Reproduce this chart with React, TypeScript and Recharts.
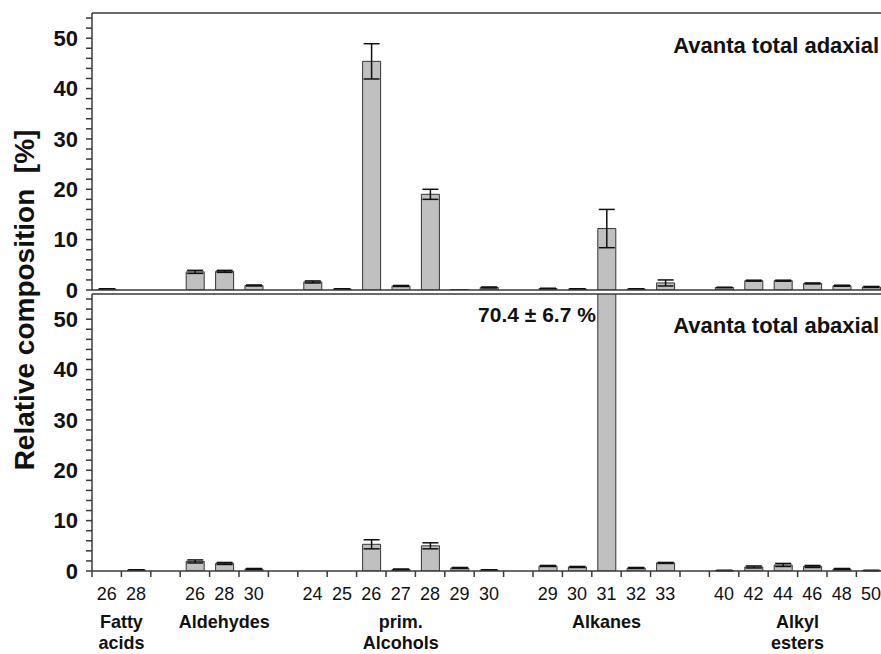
import React from 'react'
import { BarChart, Bar, XAxis, YAxis, ErrorBar, ReferenceLine } from 'recharts'

// slot ids (gaps between groups are empty slots)
const slotIds = [
  'fa26', 'fa28', 'g1',
  'al26', 'al28', 'al30', 'g2',
  'oh24', 'oh25', 'oh26', 'oh27', 'oh28', 'oh29', 'oh30', 'g3',
  'an29', 'an30', 'an31', 'an32', 'an33', 'g4',
  'es40', 'es42', 'es44', 'es46', 'es48', 'es50',
]
const slotLabels = [
  '26', '28', '',
  '26', '28', '30', '',
  '24', '25', '26', '27', '28', '29', '30', '',
  '29', '30', '31', '32', '33', '',
  '40', '42', '44', '46', '48', '50',
]

const adaxialValues = [
  0.2, 0, null,
  3.6, 3.7, 0.9, null,
  1.6, 0.2, 45.4, 0.8, 19.0, 0.1, 0.5, null,
  0.3, 0.2, 12.2, 0.2, 1.4, null,
  0.5, 1.85, 1.85, 1.3, 0.85, 0.6,
]
const adaxialErrors = [
  0.05, 0, null,
  0.3, 0.2, 0.1, null,
  0.2, 0.05, 3.5, 0.1, 1.0, 0, 0.1, null,
  0.05, 0.05, 3.8, 0.05, 0.6, null,
  0.05, 0.1, 0.1, 0.1, 0.1, 0.1,
]
const abaxialValues = [
  0, 0.2, null,
  1.9, 1.5, 0.4, null,
  0, 0, 5.3, 0.3, 5.0, 0.6, 0.2, null,
  1.0, 0.8, 70.4, 0.6, 1.6, null,
  0.1, 0.8, 1.2, 0.9, 0.4, 0.1,
]
const abaxialErrors = [
  0, 0.05, null,
  0.3, 0.2, 0.1, null,
  0, 0, 0.9, 0.1, 0.6, 0.1, 0.05, null,
  0.1, 0.1, 6.7, 0.1, 0.1, null,
  0.05, 0.2, 0.3, 0.2, 0.1, 0.05,
]

const groups = [
  { lines: ['Fatty', 'acids'], start: 0, count: 2 },
  { lines: ['Aldehydes'], start: 3, count: 3 },
  { lines: ['prim.', 'Alcohols'], start: 7, count: 7 },
  { lines: ['Alkanes'], start: 15, count: 5 },
  { lines: ['Alkyl', 'esters'], start: 21, count: 6 },
]

const yTicks = [0, 2, 4, 6, 8, 10, 12, 14, 16, 18, 20, 22, 24, 26, 28, 30, 32, 34, 36, 38, 40, 42, 44, 46, 48, 50, 52, 54]
const Y_MAX = 55

const rows = slotIds.map((id, i) => ({
  id,
  label: slotLabels[i],
  ad: adaxialValues[i],
  adErr: adaxialErrors[i],
  ab: abaxialValues[i],
  abErr: abaxialErrors[i],
}))

const FONT = '"Liberation Sans", Arial, Helvetica, sans-serif'
const AXIS = '#3a3a3a'
const SLOT = 29.4
const Y_W = 92
const CHART_W = Y_W + SLOT * slotIds.length + 10
const PANEL_H = 277

const yTick = {
  fontFamily: FONT,
  fontSize: 22,
  fontWeight: 'bold',
  fill: '#111',
}

const XTick = (props: any) => {
  const { x, y, index } = props
  const g = groups.find((gr) => gr.start === index)
  const last = index === slotIds.length - 1
  return (
    <g>
      <line x1={x - SLOT / 2} x2={x - SLOT / 2} y1={y} y2={y + 6} stroke={AXIS} strokeWidth={1.5} />
      {last && <line x1={x + SLOT / 2} x2={x + SLOT / 2} y1={y} y2={y + 6} stroke={AXIS} strokeWidth={1.5} />}
      <text x={x} y={y + 29} textAnchor="middle" fontFamily={FONT} fontSize={18} fill="#111">
        {slotLabels[index]}
      </text>
      {g &&
        g.lines.map((t, k) => (
          <text
            key={t}
            x={x + ((g.count - 1) / 2) * SLOT}
            y={y + 57 + k * 21}
            textAnchor="middle"
            fontFamily={FONT}
            fontSize={18}
            fontWeight="bold"
            fill="#111"
          >
            {t}
          </text>
        ))}
    </g>
  )
}

const OverflowLabel = (props: any) => {
  const { x, value } = props
  if (value == null || value <= Y_MAX) return null
  const i = abaxialValues.indexOf(value)
  return (
    <text x={x - 2} y={10 + 28} textAnchor="end" fontFamily={FONT} fontSize={21} fontWeight="bold" fill="#111">
      {`${value} ± ${abaxialErrors[i]} %`}
    </text>
  )
}

const yAxisProps = {
  width: Y_W,
  domain: [0, Y_MAX] as [number, number],
  ticks: yTicks,
  interval: 0 as const,
  allowDataOverflow: true,
  tickFormatter: (v: number) => (v % 10 === 0 ? String(v) : ''),
  tick: yTick,
  tickSize: 6,
  tickMargin: 8,
  axisLine: { stroke: AXIS, strokeWidth: 1.5 },
  tickLine: { stroke: AXIS, strokeWidth: 1.5 },
}

export default function App() {
  return (
    <div
      style={{
        position: 'fixed',
        left: 0,
        top: 0,
        width: 881,
        height: 654,
        overflow: 'hidden',
        background: '#fff',
      }}
    >
      <div style={{ position: 'absolute', left: 0, top: 0 }}>
        <BarChart width={CHART_W} height={310} data={rows} margin={{ top: 13, right: 10, bottom: 0, left: 0 }}>
          <XAxis dataKey="id" height={20} tick={false} tickLine={false} axisLine={{ stroke: AXIS, strokeWidth: 1.5 }} />
          <YAxis {...yAxisProps} />
          <ReferenceLine y={Y_MAX} stroke={AXIS} strokeWidth={1.5} />
          <Bar dataKey="ad" barSize={18} fill="#c0c0c0" stroke="#333" strokeWidth={1} isAnimationActive={false}>
            <ErrorBar dataKey="adErr" width={8} stroke="#111" strokeWidth={1.5} direction="y" />
          </Bar>
        </BarChart>
      </div>
      <div style={{ position: 'absolute', left: 0, top: 284 }}>
        <BarChart width={CHART_W} height={370} data={rows} margin={{ top: 10, right: 10, bottom: 0, left: 0 }}>
          <XAxis
            dataKey="id"
            height={370 - 10 - PANEL_H}
            interval={0}
            tickSize={0}
            tickMargin={0}
            tickLine={false}
            tick={<XTick />}
            axisLine={{ stroke: AXIS, strokeWidth: 1.5 }}
          />
          <YAxis {...yAxisProps} />
          <ReferenceLine y={Y_MAX} stroke={AXIS} strokeWidth={1.5} />
          <Bar
            dataKey="ab"
            barSize={18}
            fill="#c0c0c0"
            stroke="#333"
            strokeWidth={1}
            isAnimationActive={false}
            label={<OverflowLabel />}
          >
            <ErrorBar dataKey="abErr" width={8} stroke="#111" strokeWidth={1.5} direction="y" />
          </Bar>
        </BarChart>
      </div>
      <svg width={881} height={654} style={{ position: 'absolute', left: 0, top: 0, pointerEvents: 'none' }}>
        <text
          transform="translate(34 300) rotate(-90)"
          textAnchor="middle"
          fontFamily={FONT}
          fontSize={28}
          fontWeight="bold"
          fill="#111"
          xmlSpace="preserve"
        >
          {'Relative composition  [%]'}
        </text>
        <text x={879} y={53} textAnchor="end" fontFamily={FONT} fontSize={22} fontWeight="bold" fill="#111">
          Avanta total adaxial
        </text>
        <text x={879} y={333} textAnchor="end" fontFamily={FONT} fontSize={22} fontWeight="bold" fill="#111">
          Avanta total abaxial
        </text>
      </svg>
    </div>
  )
}
